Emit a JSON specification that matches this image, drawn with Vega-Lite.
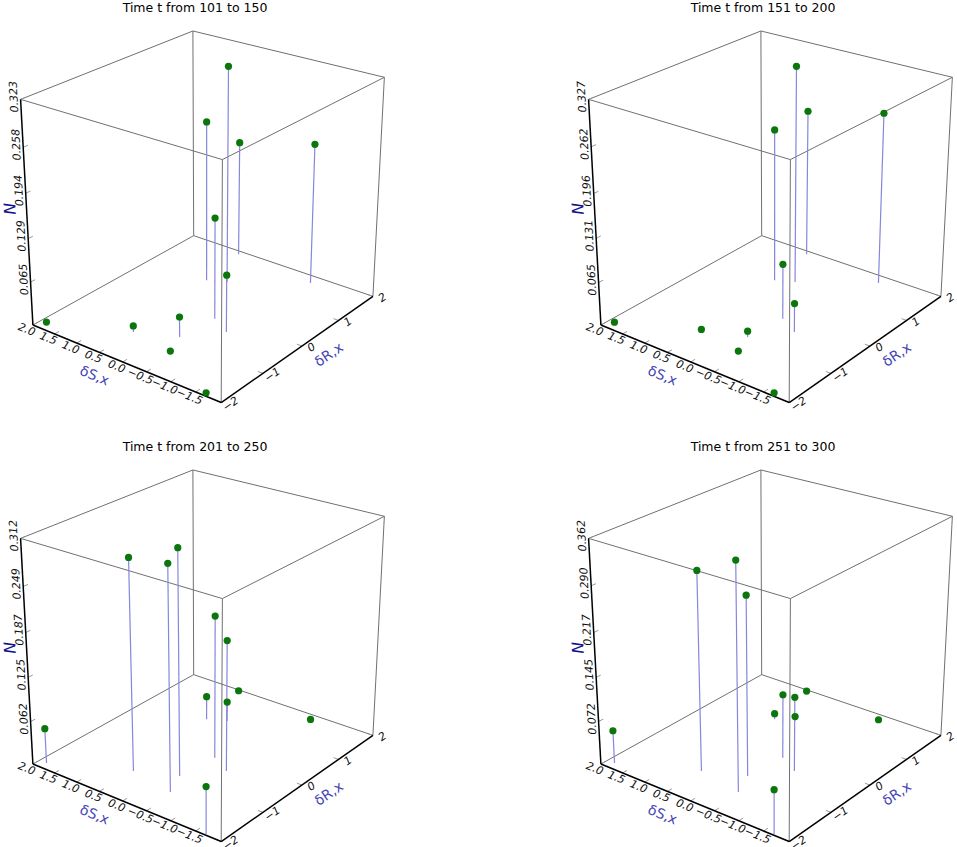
{
  "$schema": "https://vega.github.io/schema/vega-lite/v6.json",
  "padding": {"top": 1, "left": 0, "right": 0, "bottom": 0},
  "bounds": "flush",
  "params": [
    {"name": "camAz", "value": 37.75},
    {"name": "camEl", "value": 24.5},
    {"name": "camDist", "value": 1500},
    {"name": "unitS", "value": 60},
    {"name": "unitR", "value": 66},
    {"name": "halfN", "value": 122}
  ],
  "datasets": {
    "panels": [
      {"panel": 1, "title": "Time t from 101 to 150", "nmax": 0.323},
      {"panel": 2, "title": "Time t from 151 to 200", "nmax": 0.327},
      {"panel": 3, "title": "Time t from 201 to 250", "nmax": 0.312},
      {"panel": 4, "title": "Time t from 251 to 300", "nmax": 0.362}
    ]
  },
  "data": {
    "values": [
      {"kind": "edge", "s1": -2, "r1": 2, "f1": 0, "s2": 2, "r2": 2, "f2": 0},
      {"kind": "edge", "s1": 2, "r1": 2, "f1": 0, "s2": 2, "r2": -2, "f2": 0},
      {"kind": "edge", "s1": 2, "r1": -2, "f1": 1, "s2": -2, "r2": -2, "f2": 1},
      {"kind": "edge", "s1": -2, "r1": -2, "f1": 1, "s2": -2, "r2": 2, "f2": 1},
      {"kind": "edge", "s1": -2, "r1": 2, "f1": 1, "s2": 2, "r2": 2, "f2": 1},
      {"kind": "edge", "s1": 2, "r1": 2, "f1": 1, "s2": 2, "r2": -2, "f2": 1},
      {"kind": "edge", "s1": -2, "r1": -2, "f1": 0, "s2": -2, "r2": -2, "f2": 1},
      {"kind": "edge", "s1": -2, "r1": 2, "f1": 0, "s2": -2, "r2": 2, "f2": 1},
      {"kind": "edge", "s1": 2, "r1": 2, "f1": 0, "s2": 2, "r2": 2, "f2": 1},
      {"kind": "axis", "s1": 2, "r1": -2, "f1": 0, "s2": -2, "r2": -2, "f2": 0},
      {"kind": "axis", "s1": -2, "r1": -2, "f1": 0, "s2": -2, "r2": 2, "f2": 0},
      {"kind": "axis", "s1": 2, "r1": -2, "f1": 0, "s2": 2, "r2": -2, "f2": 1},
      {"kind": "stick", "s1": 2, "r1": -2, "f1": 0, "s2": 2, "r2": -1.9, "f2": 0},
      {"kind": "stick", "s1": 1.5, "r1": -2, "f1": 0, "s2": 1.5, "r2": -1.9, "f2": 0},
      {"kind": "stick", "s1": 1, "r1": -2, "f1": 0, "s2": 1, "r2": -1.9, "f2": 0},
      {"kind": "stick", "s1": 0.5, "r1": -2, "f1": 0, "s2": 0.5, "r2": -1.9, "f2": 0},
      {"kind": "stick", "s1": 0, "r1": -2, "f1": 0, "s2": 0, "r2": -1.9, "f2": 0},
      {"kind": "stick", "s1": -0.5, "r1": -2, "f1": 0, "s2": -0.5, "r2": -1.9, "f2": 0},
      {"kind": "stick", "s1": -1, "r1": -2, "f1": 0, "s2": -1, "r2": -1.9, "f2": 0},
      {"kind": "stick", "s1": -1.5, "r1": -2, "f1": 0, "s2": -1.5, "r2": -1.9, "f2": 0},
      {"kind": "rtick", "s1": -2, "r1": -2, "f1": 0, "s2": -1.9, "r2": -2, "f2": 0},
      {"kind": "rtick", "s1": -2, "r1": -1, "f1": 0, "s2": -1.9, "r2": -1, "f2": 0},
      {"kind": "rtick", "s1": -2, "r1": 0, "f1": 0, "s2": -1.9, "r2": 0, "f2": 0},
      {"kind": "rtick", "s1": -2, "r1": 1, "f1": 0, "s2": -1.9, "r2": 1, "f2": 0},
      {"kind": "rtick", "s1": -2, "r1": 2, "f1": 0, "s2": -1.9, "r2": 2, "f2": 0},
      {"kind": "ntick", "s1": 2, "r1": -2, "s2": 2, "r2": -1.9, "n": [0.065, 0.065, 0.062, 0.072]},
      {"kind": "ntick", "s1": 2, "r1": -2, "s2": 2, "r2": -1.9, "n": [0.129, 0.131, 0.125, 0.145]},
      {"kind": "ntick", "s1": 2, "r1": -2, "s2": 2, "r2": -1.9, "n": [0.194, 0.196, 0.187, 0.217]},
      {"kind": "ntick", "s1": 2, "r1": -2, "s2": 2, "r2": -1.9, "n": [0.258, 0.262, 0.249, 0.290]},
      {"kind": "ntick", "s1": 2, "r1": -2, "s2": 2, "r2": -1.9, "n": [0.323, 0.327, 0.312, 0.362]},
      {"kind": "stitle", "s1": 0.42, "r1": -2, "f1": 0},
      {"kind": "rtitle", "s1": -2, "r1": 0.38, "f1": 0},
      {"kind": "ntitle", "s1": 2, "r1": -2, "f1": 0.5},
      {"kind": "pt", "s1": 0.35, "r1": 0.97, "n": [0.323, 0.327, 0.0291, 0.008]},
      {"kind": "pt", "s1": 0.68, "r1": 0.815, "n": [0.2415, 0.2327, 0.0347, 0.010]},
      {"kind": "pt", "s1": 0.85, "r1": 1.895, "n": [0.1774, 0.228, 0.004, 0.004]},
      {"kind": "pt", "s1": -0.85, "r1": 1.77, "n": [0.2123, 0.2606, 0.004, 0.004]},
      {"kind": "pt", "s1": -0.30, "r1": -0.13, "n": [0.1505, 0.0835, 0.202, 0.1068]},
      {"kind": "pt", "s1": -0.73, "r1": -0.35, "n": [0.0849, 0.0433, 0.1842, 0.1228]},
      {"kind": "pt", "s1": 1.84, "r1": -1.85, "n": [0.003, 0.003, 0.0504, 0.055]},
      {"kind": "pt", "s1": 0.50, "r1": -1.22, "n": [0.0092, 0.004, 0.2944, 0.322]},
      {"kind": "pt", "s1": -0.22, "r1": -0.91, "n": [0.0302, 0.009, 0.312, 0.2908]},
      {"kind": "pt", "s1": -0.43, "r1": -1.37, "n": [0.003, 0.003, 0.308, 0.362]},
      {"kind": "pt", "s1": -1.68, "r1": -1.97, "n": [0.003, 0.003, 0.065, 0.0706]}
    ]
  },
  "transform": [
    {"calculate": "[1, 2, 3, 4]", "as": "panel"},
    {"flatten": ["panel"]},
    {"lookup": "panel", "from": {"data": {"name": "panels"}, "key": "panel", "fields": ["title", "nmax"]}},
    {"calculate": "isArray(datum.n) ? datum.n[datum.panel - 1] : null", "as": "N"},
    {"calculate": "datum.N != null ? datum.N / datum.nmax : datum.f1", "as": "F1"},
    {"calculate": "isValid(datum.s2) ? datum.s2 : datum.s1", "as": "S2"},
    {"calculate": "isValid(datum.r2) ? datum.r2 : datum.r1", "as": "R2"},
    {"calculate": "isValid(datum.f2) ? datum.f2 : (datum.kind == 'pt' ? 0 : datum.F1)", "as": "F2"},
    {"calculate": "sin(camAz*PI/180)*unitS*datum.s1 + cos(camAz*PI/180)*unitR*datum.r1", "as": "d1"},
    {"calculate": "halfN*(2*datum.F1 - 1)", "as": "z1"},
    {"calculate": "camDist/(camDist + cos(camEl*PI/180)*datum.d1 - sin(camEl*PI/180)*datum.z1)", "as": "k1"},
    {"calculate": "(-cos(camAz*PI/180)*unitS*datum.s1 + sin(camAz*PI/180)*unitR*datum.r1)*datum.k1", "as": "px1"},
    {"calculate": "(cos(camEl*PI/180)*datum.z1 + sin(camEl*PI/180)*datum.d1)*datum.k1", "as": "py1"},
    {"calculate": "sin(camAz*PI/180)*unitS*datum.S2 + cos(camAz*PI/180)*unitR*datum.R2", "as": "d2"},
    {"calculate": "halfN*(2*datum.F2 - 1)", "as": "z2"},
    {"calculate": "camDist/(camDist + cos(camEl*PI/180)*datum.d2 - sin(camEl*PI/180)*datum.z2)", "as": "k2"},
    {"calculate": "(-cos(camAz*PI/180)*unitS*datum.S2 + sin(camAz*PI/180)*unitR*datum.R2)*datum.k2", "as": "px2"},
    {"calculate": "(cos(camEl*PI/180)*datum.z2 + sin(camEl*PI/180)*datum.d2)*datum.k2", "as": "py2"}
  ],
  "facet": {
    "field": "title",
    "type": "nominal",
    "header": {"title": null, "labelFont": "DejaVu Sans", "labelFontSize": 12.5, "labelColor": "#000000", "labelPadding": 3}
  },
  "columns": 2,
  "spacing": {"row": 49, "column": 178},
  "spec": {
    "width": 390,
    "height": 390,
    "encoding": {
      "x": {"field": "px1", "type": "quantitative", "scale": {"domain": [-206, 184], "nice": false, "zero": false}, "axis": null},
      "y": {"field": "py1", "type": "quantitative", "scale": {"domain": [-204, 186], "nice": false, "zero": false}, "axis": null}
    },
    "layer": [
      {
        "transform": [{"filter": "datum.kind == 'edge'"}],
        "mark": {"type": "rule", "color": "#707070", "strokeWidth": 1},
        "encoding": {"x2": {"field": "px2"}, "y2": {"field": "py2"}}
      },
      {
        "transform": [{"filter": "datum.kind == 'stick' || datum.kind == 'rtick' || datum.kind == 'ntick'"}],
        "mark": {"type": "rule", "color": "#999999", "strokeWidth": 1},
        "encoding": {"x2": {"field": "px2"}, "y2": {"field": "py2"}}
      },
      {
        "transform": [{"filter": "datum.kind == 'axis'"}],
        "mark": {"type": "rule", "color": "#000000", "strokeWidth": 1.5},
        "encoding": {"x2": {"field": "px2"}, "y2": {"field": "py2"}}
      },
      {
        "transform": [{"filter": "datum.kind == 'pt'"}],
        "mark": {"type": "rule", "color": "#8686dc", "strokeWidth": 1.2},
        "encoding": {"x2": {"field": "px2"}, "y2": {"field": "py2"}}
      },
      {
        "transform": [{"filter": "datum.kind == 'pt'"}],
        "mark": {"type": "circle", "color": "#0b760b", "size": 52, "opacity": 1}
      },
      {
        "transform": [{"filter": "datum.kind == 'stick'"}],
        "mark": {"type": "text", "font": "DejaVu Sans", "fontSize": 11, "fontStyle": "italic", "color": "#111111", "angle": 22, "align": "center", "baseline": "middle", "dx": -4, "dy": 7},
        "encoding": {"text": {"field": "s1", "type": "quantitative", "format": ".1f"}}
      },
      {
        "transform": [{"filter": "datum.kind == 'rtick'"}],
        "mark": {"type": "text", "font": "DejaVu Sans", "fontSize": 11, "fontStyle": "italic", "color": "#111111", "angle": 325.4, "align": "center", "baseline": "middle", "dx": 7, "dy": 7},
        "encoding": {"text": {"field": "r1", "type": "quantitative", "format": "d"}}
      },
      {
        "transform": [{"filter": "datum.kind == 'ntick'"}],
        "mark": {"type": "text", "font": "DejaVu Sans", "fontSize": 11, "fontStyle": "italic", "color": "#111111", "angle": 267, "align": "center", "baseline": "bottom", "dx": 3, "dy": -1},
        "encoding": {"text": {"field": "N", "type": "quantitative", "format": ".3f"}}
      },
      {
        "transform": [{"filter": "datum.kind == 'stitle'"}],
        "mark": {"type": "text", "text": "δS,x", "font": "DejaVu Sans", "fontSize": 14, "color": "#4545b5", "angle": 22, "align": "center", "baseline": "middle", "dy": 24}
      },
      {
        "transform": [{"filter": "datum.kind == 'rtitle'"}],
        "mark": {"type": "text", "text": "δR,x", "font": "DejaVu Sans", "fontSize": 14, "color": "#4545b5", "angle": 325.4, "align": "center", "baseline": "middle", "dy": 23}
      },
      {
        "transform": [{"filter": "datum.kind == 'ntitle'"}],
        "mark": {"type": "text", "text": "N", "font": "DejaVu Sans", "fontSize": 16, "fontStyle": "italic", "color": "#12128c", "angle": 267, "align": "center", "baseline": "bottom", "dx": 8, "dy": -8}
      }
    ]
  },
  "config": {"view": {"stroke": null}}
}
